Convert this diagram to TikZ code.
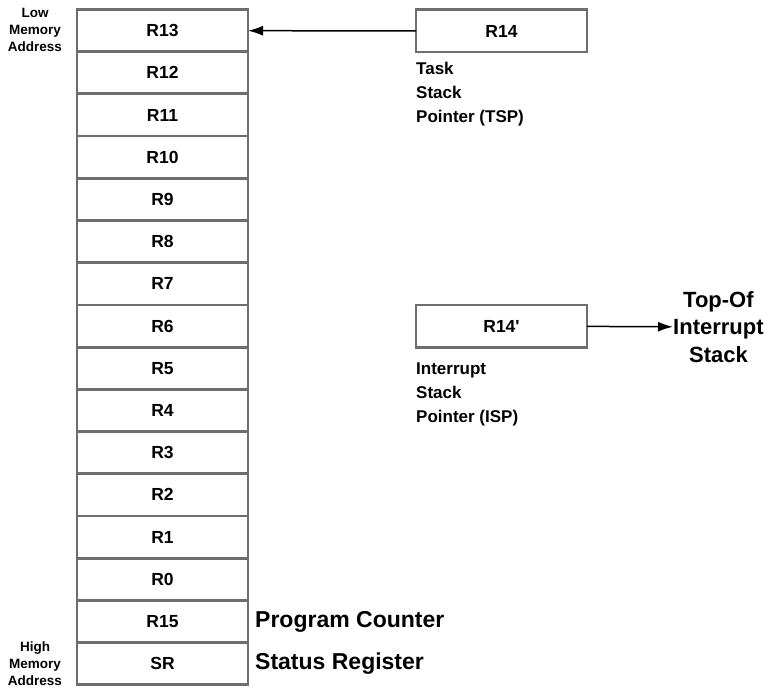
\documentclass[tikz,border=0pt]{standalone}
\usepackage{fontspec}
\setmainfont{Liberation Sans}
\usepackage{tikz}
\usetikzlibrary{arrows.meta,positioning}
\definecolor{regGray}{HTML}{6E6E6E}
\tikzset{reg/.style={rectangle, draw=regGray, line width=2.8pt, fill=white,
  minimum width=171pt, minimum height=42.2pt, inner sep=0pt, outer sep=0pt,
  font=\fontsize{17.5}{20}\selectfont\bfseries}}
\tikzset{ptr/.style={draw, line width=1.5pt, black, -{Latex[length=15pt,width=10pt]}}}
\tikzset{lbl/.style={inner sep=0pt, align=left, font=\fontsize{17}{24}\selectfont\bfseries}}
\tikzset{big/.style={inner sep=0pt, font=\fontsize{23}{27.5}\selectfont\bfseries}}
\tikzset{small/.style={inner sep=0pt, align=center, font=\fontsize{13.5}{16.8}\selectfont\bfseries}}

\begin{document}
\begin{tikzpicture}[x=1pt,y=-1pt]
        \useasboundingbox (0,0) rectangle (775,687);
        %% stack frame
        \node (r13) at (162.5,30.6) [reg] {R13};
        \node (r12) at (162.5,72.8) [reg] {R12};
        \node (r11) at (162.5,115) [reg] {R11};
        \node (r10) at (162.5,157.2) [reg] {R10};
        \node (r9) at (162.5,199.4) [reg] {R9};
        \node (r8) at (162.5,241.6) [reg] {R8};
        \node (r7) at (162.5,283.8) [reg] {R7};
        \node (r6) at (162.5,326) [reg] {R6};
        \node (r5) at (162.5,368.2) [reg] {R5};
        \node (r4) at (162.5,410.4) [reg] {R4};
        \node (r3) at (162.5,452.6) [reg] {R3};
        \node (r2) at (162.5,494.8) [reg] {R2};
        \node (r1) at (162.5,537) [reg] {R1};
        \node (r0) at (162.5,579.2) [reg] {R0};
        \node (r15) at (162.5,621.4) [reg] {R15};
        \node (sr) at (162.5,663.6) [reg] {SR};
        \node (low) at (35,8.3) [small, anchor=north] {Low\\Memory\\Address};
        \node (high) at (35,685.5) [small, anchor=south] {High\\Memory\\Address};
        \node (pc) at ([xshift=7pt]r15.east) [big, anchor=west] {Program Counter};
        \node (st) at ([xshift=7pt]sr.east) [big, anchor=west] {Status Register};
        %% task stack pointer
        \node (r14) at (501.5,31) [reg] {R14};
        \node (tsp) at ([yshift=-10pt]r14.south west) [lbl, anchor=north west] {Task\\Stack\\Pointer (TSP)};
        \draw [ptr] (r14) to (r13);
        %% interrupt stack pointer
        \node (r14p) at (501.5,326) [reg] {R14\textquotesingle};
        \node (isp) at ([yshift=-15pt]r14p.south west) [lbl, anchor=north west] {Interrupt\\Stack\\Pointer (ISP)};
        \node (tos) at (673,327) [big, align=center, anchor=west, font=\fontsize{22}{27.5}\selectfont\bfseries] {Top-Of\\Interrupt\\Stack};
        \draw [ptr] (r14p) to (tos);
    \end{tikzpicture}
\end{document}
